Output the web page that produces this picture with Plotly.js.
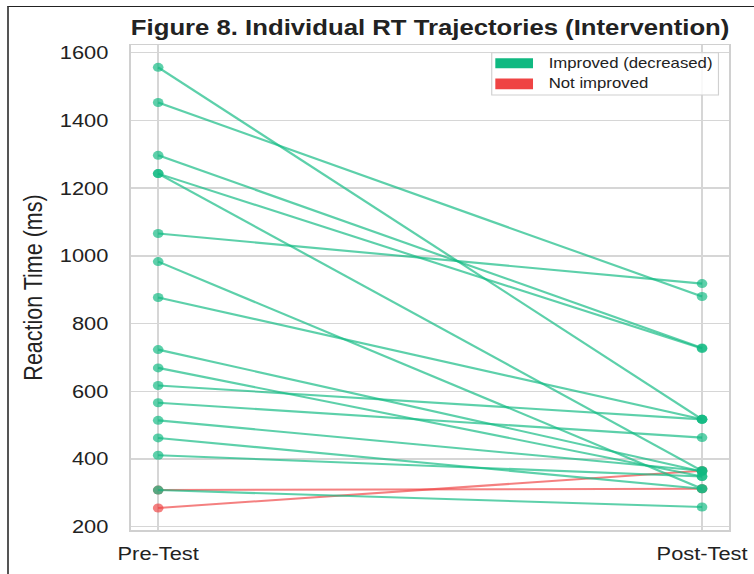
<!DOCTYPE html>
<html>
<head>
<meta charset="utf-8">
<script src="https://cdn.plot.ly/plotly-3.0.1.min.js"></script>
<style>
  html, body { margin: 0; padding: 0; background: #fff; }
  #wrap { position: relative; width: 754px; height: 574px; overflow: hidden; background: #fff; }
  #chart { position: absolute; left: 0; top: 0; width: 639px; height: 574px; transform: scaleX(1.18); transform-origin: 0 0; }
  #edge { position: absolute; left: 7px; top: 6px; right: -5px; bottom: -5px; border-left: 2px solid #555; border-top: 1.5px solid #222; pointer-events: none; }
</style>
</head>
<body>
<div id="wrap">
  <div id="chart"></div>
  <div id="edge"></div>
</div>
<script>
// ---- data ----
const categories = ['Pre-Test', 'Post-Test'];
const preRT  = [1557, 1453, 1297, 1243, 1243, 1066, 983, 877, 723, 669, 617, 566, 514, 462, 411, 308, 308, 255];
const postRT = [ 517,  880,  728,  726,  365,  918, 312, 517, 363, 348, 517, 463, 365, 312, 348, 258, 312, 365];
const legendLabels = ['Improved (decreased)', 'Not improved'];
const yTickVals = [200, 400, 600, 800, 1000, 1200, 1400, 1600];
const titleText = 'Figure 8. Individual RT Trajectories (Intervention)';
const yTitleText = 'Reaction Time (ms)';

// ---- styles ----
const greenRGB = '16,185,129';
const redRGB = '239,68,68';
const alpha = 0.68;
const FONT = 'Liberation Sans, Arial, sans-serif';

function makeTrace(i) {
  const pre = preRT[i], post = postRT[i];
  const rgb = post < pre ? greenRGB : redRGB;
  const col = 'rgba(' + rgb + ',' + alpha + ')';
  return {
    type: 'scatter',
    mode: 'lines+markers',
    x: categories,
    y: [pre, post],
    line: { color: col, width: 2.1 },
    marker: { color: col, size: 9, line: { width: 0 } },
    showlegend: false,
    hoverinfo: 'skip'
  };
}
const idx = preRT.map((_, i) => i);
// not-improved lines first so improved lines sit on top
const order = idx.filter(i => postRT[i] >= preRT[i]).concat(idx.filter(i => postRT[i] < preRT[i]));
const traces = order.map(makeTrace);

// legend drawn in paper coordinates
const shapes = [
  { type: 'rect', xref: 'paper', yref: 'paper', x0: 0.603, x1: 0.982, y0: 0.897, y1: 0.984,
    fillcolor: 'rgba(255,255,255,0.85)', line: { color: '#d0d0d0', width: 1 }, layer: 'above' },
  { type: 'rect', xref: 'paper', yref: 'paper', x0: 0.609, x1: 0.672, y0: 0.952, y1: 0.9726,
    fillcolor: 'rgb(' + greenRGB + ')', line: { width: 0 }, layer: 'above' },
  { type: 'rect', xref: 'paper', yref: 'paper', x0: 0.609, x1: 0.672, y0: 0.909, y1: 0.931,
    fillcolor: 'rgb(' + redRGB + ')', line: { width: 0 }, layer: 'above' }
];
const annotations = [
  { xref: 'paper', yref: 'paper', x: 0.694, y: 0.962, xanchor: 'left', yanchor: 'middle',
    text: legendLabels[0], showarrow: false, font: { family: FONT, size: 14.2, color: '#222' } },
  { xref: 'paper', yref: 'paper', x: 0.694, y: 0.921, xanchor: 'left', yanchor: 'middle',
    text: legendLabels[1], showarrow: false, font: { family: FONT, size: 14.2, color: '#222' } }
];

const layout = {
  width: 639,
  height: 574,
  margin: { l: 111, r: 21, t: 45, b: 44 },
  paper_bgcolor: 'rgba(0,0,0,0)',
  plot_bgcolor: '#fff',
  font: { family: FONT, color: '#222' },
  title: {
    text: '<b>' + titleText + '</b>',
    font: { family: FONT, size: 21.8, color: '#222' },
    xref: 'paper', x: 0.5, xanchor: 'center',
    yref: 'container', y: 1 - 27 / 574, yanchor: 'middle'
  },
  xaxis: {
    type: 'category',
    range: [-0.05, 1.05],
    showgrid: true, gridcolor: '#d6d6d6', gridwidth: 1.4,
    showline: true, linecolor: '#d0d0d0', linewidth: 1.5, mirror: true,
    zeroline: false,
    ticks: '',
    ticklabelstandoff: 6,
    tickfont: { family: FONT, size: 18.5, color: '#222' },
    fixedrange: true
  },
  yaxis: {
    range: [190, 1623],
    tickvals: yTickVals,
    showgrid: true, gridcolor: '#d6d6d6', gridwidth: 1.4,
    showline: true, linecolor: '#d0d0d0', linewidth: 1.5, mirror: true,
    zeroline: false,
    ticks: '',
    ticklabelstandoff: 14,
    tickfont: { family: FONT, size: 18.5, color: '#222' },
    title: { text: yTitleText, font: { family: FONT, size: 21.5, color: '#222' }, standoff: 8 },
    automargin: false,
    fixedrange: true
  },
  shapes: shapes,
  annotations: annotations,
  showlegend: false
};

Plotly.newPlot('chart', traces, layout, { displayModeBar: false, staticPlot: true });
</script>
</body>
</html>
